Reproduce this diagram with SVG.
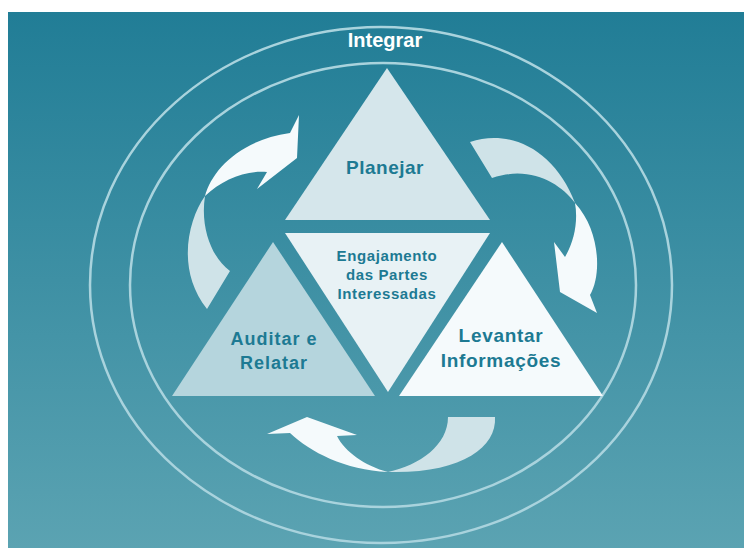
<svg xmlns="http://www.w3.org/2000/svg" width="744" height="548" viewBox="0 0 744 548">
<defs>
<linearGradient id="bg" x1="0" y1="0" x2="0" y2="1">
<stop offset="0" stop-color="#217d96"/>
<stop offset="1" stop-color="#5ba3b2"/>
</linearGradient>
</defs>
<style>
.ring{fill:none;stroke:#a9d3dd;stroke-width:2.5}
.lbl{font-family:"Liberation Sans",Arial,sans-serif;font-weight:bold;fill:#1d7a93;text-anchor:middle}
.white{fill:#f5fafc}
.light{fill:#cfe3e8}
</style>
<rect x="0" y="0" width="744" height="548" fill="#ffffff"/>
<rect x="8" y="12" width="736" height="536" fill="url(#bg)"/>
<g id="rings">
<ellipse class="ring" cx="381" cy="285" rx="291" ry="258"/>
<ellipse class="ring" cx="383" cy="285" rx="253" ry="222"/>
</g>
<text x="385" y="47" font-family="Liberation Sans, Arial, sans-serif" font-weight="bold" font-size="20" fill="#ffffff" text-anchor="middle">Integrar</text>
<g id="connectors">
<path class="white" d="M205,196 C212,170 240,140 290,133 L299,115 L297,158 L257,189 L267,172 C245,170 222,180 205,196 Z"/>
<path class="light" d="M205,196 C188,220 176,270 207,309 L230,271 C212,258 200,228 205,196 Z"/>
<path class="light" d="M470,142 C510,128 555,150 575,203 C560,183 530,165 492,178 Z"/>
<path class="white" d="M575,203 C600,230 602,275 590,295 L597,313 L560,292 L554,242 L565,257 C575,240 578,220 575,203 Z"/>
<path class="light" d="M448,417 L495,417 C497,448 460,474 388,472 C420,465 448,445 448,417 Z"/>
<path class="white" d="M388,472 C345,470 310,452 290,433 L267,434 L307,417 L357,435 L337,436 C345,452 365,466 388,472 Z"/>
</g>
<g id="planejar">
<polygon points="387,68 285,220 490,220" fill="#d5e6eb"/>
<text class="lbl" x="385" y="174" font-size="19" letter-spacing="0.5">Planejar</text>
</g>
<g id="engajamento">
<polygon points="285,233 490,233 388,392" fill="#e8f2f5"/>
<text class="lbl" font-size="15" letter-spacing="0.6"><tspan x="387" y="261">Engajamento</tspan><tspan x="387" y="280">das Partes</tspan><tspan x="387" y="299">Interessadas</tspan></text>
</g>
<g id="auditar">
<polygon points="273,242 172,396 375,396" fill="#b5d5dd"/>
<text class="lbl" font-size="18" letter-spacing="1"><tspan x="274" y="345">Auditar e</tspan><tspan x="274" y="369">Relatar</tspan></text>
</g>
<g id="levantar">
<polygon points="502,242 399,396 603,396" fill="#f5fafc"/>
<text class="lbl" font-size="19" letter-spacing="0.7"><tspan x="501" y="342">Levantar</tspan><tspan x="501" y="367">Informações</tspan></text>
</g>
</svg>
